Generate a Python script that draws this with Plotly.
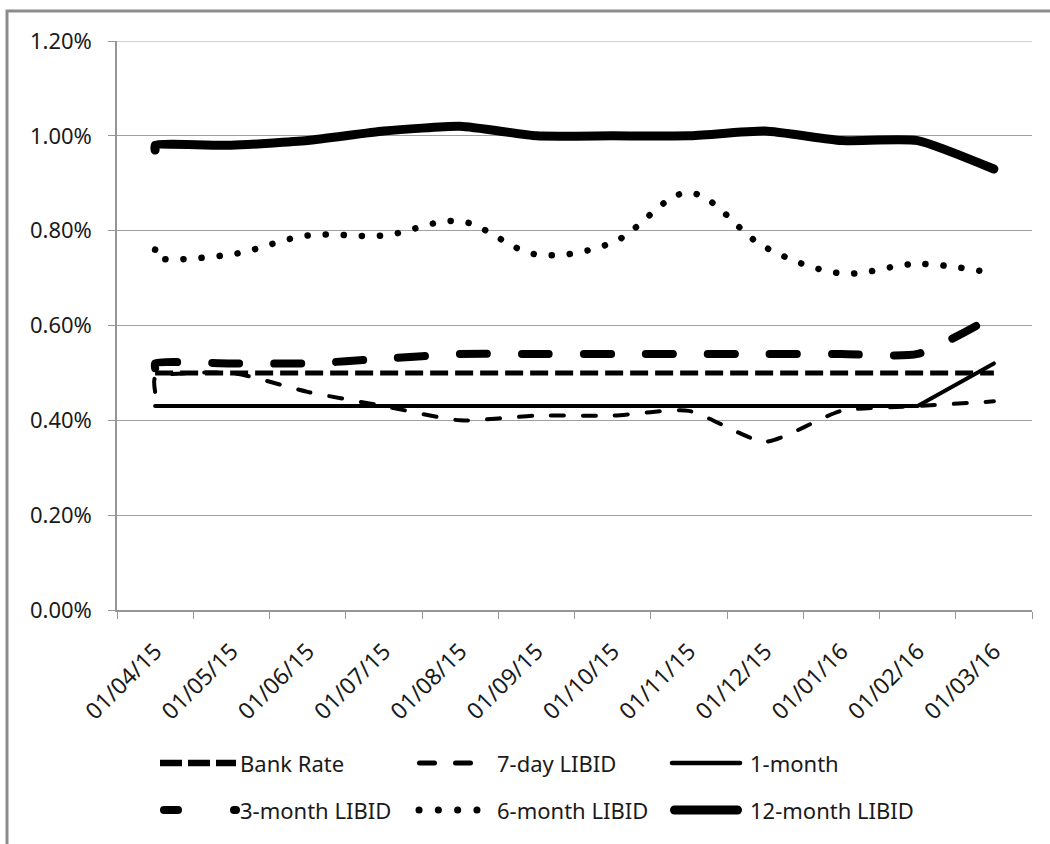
import plotly.graph_objects as go

# Month labels on the category axis
months = ["01/04/15", "01/05/15", "01/06/15", "01/07/15", "01/08/15", "01/09/15",
          "01/10/15", "01/11/15", "01/12/15", "01/01/16", "01/02/16", "01/03/16"]

# Observation months (April 2015 has two readings, plotted in the same month slot)
obs_months = ["01/04/15", "01/04/15", "01/05/15", "01/06/15", "01/07/15", "01/08/15",
              "01/09/15", "01/10/15", "01/11/15", "01/12/15", "01/01/16", "01/02/16",
              "01/03/16"]

# Rates in percent
bank_rate = [0.50, 0.50, 0.50, 0.50, 0.50, 0.50, 0.50, 0.50, 0.50, 0.50, 0.50, 0.50, 0.50]
seven_day = [0.46, 0.49, 0.50, 0.46, 0.43, 0.40, 0.41, 0.41, 0.42, 0.355, 0.42, 0.43, 0.44]
one_month = [0.43, 0.43, 0.43, 0.43, 0.43, 0.43, 0.43, 0.43, 0.43, 0.43, 0.43, 0.43, 0.52]
three_month = [0.51, 0.52, 0.52, 0.52, 0.53, 0.54, 0.54, 0.54, 0.54, 0.54, 0.54, 0.54, 0.62]
six_month = [0.76, 0.745, 0.75, 0.79, 0.79, 0.82, 0.75, 0.775, 0.88, 0.765, 0.71, 0.73, 0.71]
twelve_month = [0.97, 0.98, 0.98, 0.99, 1.01, 1.02, 1.00, 1.00, 1.00, 1.01, 0.99, 0.99, 0.93]

series_names = ["Bank Rate", "7-day LIBID", "1-month", "3-month LIBID", "6-month LIBID",
                "12-month LIBID"]

# Value-axis ticks
y_ticks = [0.0, 0.2, 0.4, 0.6, 0.8, 1.0, 1.2]
y_tick_labels = ["0.00%", "0.20%", "0.40%", "0.60%", "0.80%", "1.00%", "1.20%"]

FONT = "Noto Sans"
W, H = 1050, 844
ML, MR, MT, MB = 117, 18, 41, 234
PW, PH = W - ML - MR, H - MT - MB

# (values, width, dash, shape, smoothing, round caps)
styles = [
    (bank_rate, 5, "18px,7px", "linear", 0, False),
    (seven_day, 4, "13px,19px", "spline", 0.6, True),
    (one_month, 4, "solid", "linear", 0, True),
    (three_month, 8, "27px,35px", "spline", 0.6, True),
    (six_month, 6.5, "0.1px,18px", "spline", 1.0, True),
    (twelve_month, 9, "solid", "spline", 0.5, True),
]

fig = go.Figure()
for name, (vals, w, dash, shape, smooth, _) in zip(series_names, styles):
    line = dict(color="#000000", width=w, dash=dash, shape=shape)
    if shape == "spline":
        line["smoothing"] = smooth
    fig.add_trace(go.Scatter(
        x=obs_months, y=vals, name=name, mode="lines", line=line,
        showlegend=False, hoverinfo="skip",
    ))


def px_x(px):
    return (px - ML) / PW


def px_y(py):
    return (H - MB - py) / PH


shapes = []
round_shapes = []

# outer chart frame
shapes.append(dict(type="rect", xref="paper", yref="paper",
                   x0=px_x(7), x1=px_x(1070), y0=px_y(11), y1=px_y(870),
                   line=dict(color="#8c8c8c", width=3), fillcolor="rgba(0,0,0,0)",
                   layer="below"))
# gridline at the top of the value axis
shapes.append(dict(type="line", xref="paper", yref="y", x0=0, x1=1,
                   y0=y_ticks[-1], y1=y_ticks[-1],
                   line=dict(color="#a0a0a0", width=1.2), layer="below"))

# legend samples: (x0, x1, y, width, dash, round)
legend_rows = [763, 810]
legend_samples = [
    (160, 236, legend_rows[0], 6.5, "22px,6px", False),
    (419.5, 471, legend_rows[0], 5, "15px,21px", True),
    (672, 740, legend_rows[0], 4.5, "solid", True),
    (164, 236, legend_rows[1], 8, "14px,56px", True),
    (419, 478, legend_rows[1], 7, "0.1px,19.2px", True),
    (674.5, 737.5, legend_rows[1], 9, "solid", True),
]
legend_text_x = [238, 495, 748, 238, 495, 748]

annotations = []
for name, (x0, x1, y, w, dash, rnd), tx in zip(series_names, legend_samples, legend_text_x):
    if rnd:
        round_shapes.append(len(shapes))
    shapes.append(dict(type="line", xref="paper", yref="paper",
                       x0=px_x(x0), x1=px_x(x1), y0=px_y(y), y1=px_y(y),
                       line=dict(color="#000000", width=w, dash=dash)))
    annotations.append(dict(xref="paper", yref="paper", x=px_x(tx), y=px_y(y),
                            text=name, showarrow=False, xanchor="left", yanchor="middle",
                            font=dict(family=FONT, size=22, color="#1a1a1a")))

fig.update_layout(
    width=W, height=H,
    margin=dict(l=ML, r=MR, t=MT, b=MB, pad=0),
    paper_bgcolor="white", plot_bgcolor="white",
    font=dict(family=FONT, size=22, color="#1a1a1a"),
    showlegend=False,
    shapes=shapes,
    annotations=annotations,
    xaxis=dict(
        type="category", categoryorder="array", categoryarray=months,
        range=[-0.5, len(months) - 0.5],
        showgrid=False, showline=True, linecolor="#969696", linewidth=1.5,
        ticks="outside", tickson="boundaries", ticklen=7, tickcolor="#969696",
        tickangle=-45, tickfont=dict(family=FONT, size=23, color="#1a1a1a"),
        ticklabelstandoff=17,
        zeroline=False, fixedrange=True,
    ),
    yaxis=dict(
        range=[0, 1.2], tickmode="array",
        tickvals=y_ticks, ticktext=y_tick_labels,
        showgrid=True, gridcolor="#a0a0a0", gridwidth=1.2,
        showline=True, linecolor="#969696", linewidth=1.5,
        ticks="outside", ticklen=7, tickcolor="#969696",
        tickfont=dict(family=FONT, size=22, color="#1a1a1a"),
        ticklabelstandoff=12,
        zeroline=False, fixedrange=True,
    ),
)

round_traces = [i for i, s in enumerate(styles) if s[5]]

post = """
var gd = document.getElementById('{plot_id}');
function roundCaps() {
  var rt = %s, rs = %s;
  var traces = gd.querySelectorAll('.scatterlayer .trace');
  rt.forEach(function(i) {
    if (!traces[i]) return;
    traces[i].querySelectorAll('path.js-line').forEach(function(p) {
      p.style.strokeLinecap = 'round';
      p.style.strokeLinejoin = 'round';
    });
  });
  gd.querySelectorAll('.shapelayer path').forEach(function(p) {
    var idx = parseInt(p.getAttribute('data-index'));
    if (rs.indexOf(idx) >= 0) {
      p.style.strokeLinecap = 'round';
    }
  });
}
roundCaps();
gd.on('plotly_afterplot', roundCaps);
""" % (round_traces, round_shapes)

fig.write_html("out.html", post_script=post, config={"displayModeBar": False})
